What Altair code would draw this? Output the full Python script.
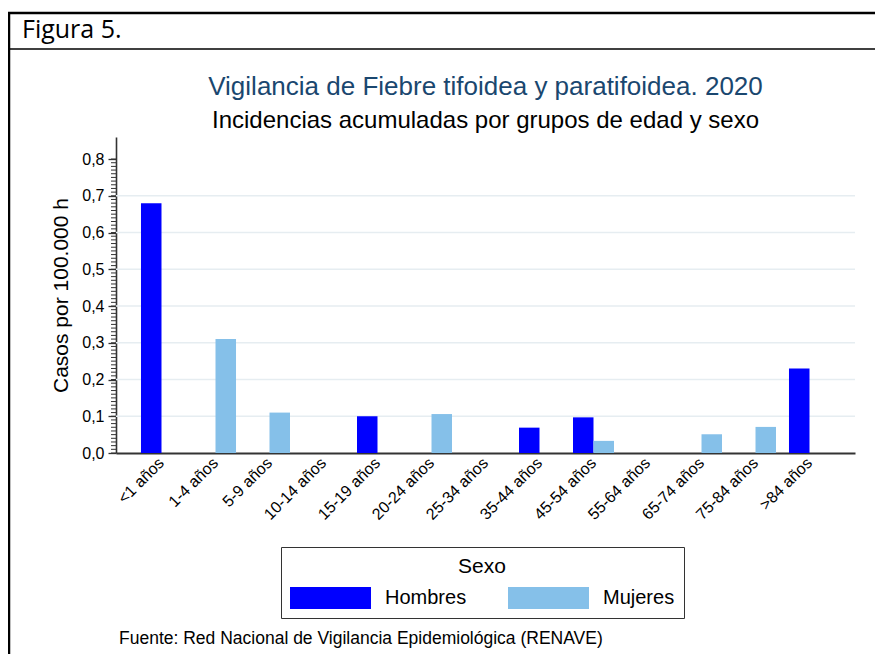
import altair as alt
import pandas as pd

# ---- data ----
grupos = ["<1 años", "1-4 años", "5-9 años", "10-14 años", "15-19 años",
          "20-24 años", "25-34 años", "35-44 años", "45-54 años",
          "55-64 años", "65-74 años", "75-84 años", ">84 años"]
hombres = [0.68, 0, 0, 0, 0.10, 0, 0, 0.069, 0.097, 0, 0, 0, 0.23]
mujeres = [0, 0.31, 0.11, 0, 0, 0.106, 0, 0, 0.033, 0, 0.051, 0.071, 0]
sexos = ["Hombres", "Mujeres"]
colores = ["#0000ff", "#85c0e9"]
y_ticks = [0.0, 0.1, 0.2, 0.3, 0.4, 0.5, 0.6, 0.7, 0.8]
grid_vals = [0.1, 0.2, 0.3, 0.4, 0.5, 0.6, 0.7]
minor_vals = [round(i * 0.01, 2) for i in range(81)]

titulo = "Vigilancia de Fiebre tifoidea y paratifoidea. 2020"
subtitulo = "Incidencias acumuladas por grupos de edad y sexo"
fuente = "Fuente: Red Nacional de Vigilancia Epidemiológica (RENAVE)"
figura = "Figura 5."

rows = []
for g, h, m in zip(grupos, hombres, mujeres):
    rows.append({"grupo": g, "sexo": "Hombres", "valor": h})
    rows.append({"grupo": g, "sexo": "Mujeres", "valor": m})
df = pd.DataFrame(rows)

W, H = 739, 316
FONT = "Liberation Sans"
AX = "#333333"

yscale = alt.Scale(domain=[0, 0.86], nice=False, zero=True)
yaxis = alt.Axis(values=y_ticks, grid=False,
                 labelExpr="replace(format(datum.value, '.1f'), '.', ',')",
                 tickSize=8, tickColor=AX, tickWidth=1.3,
                 domainColor=AX, domainWidth=1.6, labelPadding=4,
                 labelFont=FONT, labelFontSize=16, labelColor="black",
                 title="Casos por 100.000 h", titleFont=FONT,
                 titleFontSize=21, titleFontWeight="normal",
                 titleColor="black", titleAngle=270,
                 titleX=-49, titleY=158, titleAlign="center",
                 titleBaseline="alphabetic")

grid = alt.Chart(pd.DataFrame({"valor": grid_vals})).mark_rule(
    color="#e6edf1", strokeWidth=1.4
).encode(y=alt.Y("valor:Q", scale=yscale, axis=yaxis))

minor = alt.Chart(pd.DataFrame({"valor": minor_vals})).mark_rule(
    color=AX, strokeWidth=1
).encode(
    y=alt.Y("valor:Q", scale=yscale, axis=yaxis),
    x=alt.value(-5), x2=alt.value(0),
)

bars = alt.Chart(df).mark_bar().encode(
    x=alt.X("grupo:N", sort=grupos,
            scale=alt.Scale(domain=grupos, paddingInner=0.24, paddingOuter=0.4625),
            axis=alt.Axis(title=None, labelAngle=315, labelAlign="right",
                          labelBaseline="middle", ticks=False, labelPadding=7,
                          labelFont=FONT, labelFontSize=16, labelColor="black",
                          domainColor=AX, domainWidth=2, grid=False)),
    xOffset=alt.XOffset("sexo:N", scale=alt.Scale(domain=sexos, paddingInner=0, paddingOuter=0)),
    y=alt.Y("valor:Q", scale=yscale, axis=yaxis),
    color=alt.Color("sexo:N", scale=alt.Scale(domain=sexos, range=colores),
                    legend=alt.Legend(
                        title="Sexo", orient="none", legendX=165, legendY=410,
                        direction="horizontal", columns=2, columnPadding=41,
                        symbolType="M-1,-1H6.364V1H-1Z", symbolSize=484,
                        symbolStrokeWidth=0, symbolOpacity=1,
                        labelOffset=73, labelFont=FONT, labelFontSize=20,
                        labelColor="black", titleFont=FONT, titleFontSize=21,
                        titleFontWeight="normal", titleColor="black",
                        titleAnchor="middle", titlePadding=10, padding=9,
                        strokeColor="#333333", fillColor="white")),
)

def texto(t, x, y, size, color="black", font=FONT, align="left"):
    return alt.Chart(pd.DataFrame({"t": [t]})).mark_text(
        font=font, fontSize=size, color=color, align=align, baseline="alphabetic"
    ).encode(text="t:N", x=alt.value(x), y=alt.value(y))

def linea(x1, x2, y1, y2, w):
    return alt.Chart(pd.DataFrame({"a": [0]})).mark_rule(color="black", strokeWidth=w).encode(
        x=alt.value(x1), x2=alt.value(x2), y=alt.value(y1), y2=alt.value(y2))

t1 = texto(titulo, W / 2, -42, 26, color="#1a476f", align="center")
t2 = texto(subtitulo, W / 2, -9, 24, align="center")
t3 = texto(fuente, 3, 507, 17.5)
t4 = texto(figura, -94, -99, 25, font="Open Sans")

b_top = linea(-108, 759, -124, -124, 2.5)
b_sep = linea(-107, 759, -88, -88, 1.5)
b_left = linea(-107, -107, -124, 517, 2.5)

chart = alt.layer(grid, bars, minor, t1, t2, t3, t4, b_top, b_sep, b_left).properties(
    width=W, height=H,
    autosize=alt.AutoSizeParams(type="none"),
    padding={"left": 108, "top": 129, "right": 20, "bottom": 201},
    background="white",
).configure_view(stroke=None)

chart.save("out.html", embed_options={"renderer": "svg", "actions": False})
